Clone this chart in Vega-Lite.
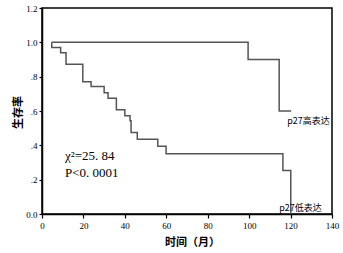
{
  "$schema": "https://vega.github.io/schema/vega-lite/v6.json",
  "width": 290,
  "height": 206,
  "autosize": "none",
  "padding": {"left": 42, "top": 8, "right": 11, "bottom": 39},
  "background": "white",
  "config": {
    "view": {"stroke": "black", "strokeWidth": 1.5},
    "font": "Liberation Serif"
  },
  "datasets": {
    "curves": [
      {"g": "high", "i": 0, "t": 4.7, "s": 1.0},
      {"g": "high", "i": 1, "t": 99.5, "s": 0.9},
      {"g": "high", "i": 2, "t": 114.5, "s": 0.6},
      {"g": "high", "i": 3, "t": 120.3, "s": 0.6},
      {"g": "low", "i": 0, "t": 4.7, "s": 1.0},
      {"g": "low", "i": 1, "t": 4.7, "s": 0.97},
      {"g": "low", "i": 2, "t": 9.0, "s": 0.94},
      {"g": "low", "i": 3, "t": 11.6, "s": 0.872},
      {"g": "low", "i": 4, "t": 19.7, "s": 0.77},
      {"g": "low", "i": 5, "t": 23.7, "s": 0.742},
      {"g": "low", "i": 6, "t": 30.0, "s": 0.706},
      {"g": "low", "i": 7, "t": 31.9, "s": 0.674},
      {"g": "low", "i": 8, "t": 35.9, "s": 0.607},
      {"g": "low", "i": 9, "t": 40.0, "s": 0.572},
      {"g": "low", "i": 10, "t": 42.5, "s": 0.543},
      {"g": "low", "i": 11, "t": 43.0, "s": 0.475},
      {"g": "low", "i": 12, "t": 46.0, "s": 0.436},
      {"g": "low", "i": 13, "t": 55.9, "s": 0.394},
      {"g": "low", "i": 14, "t": 59.9, "s": 0.351},
      {"g": "low", "i": 15, "t": 116.3, "s": 0.254},
      {"g": "low", "i": 16, "t": 120.1, "s": 0.0}
    ],
    "labels": [
      {"t": 118.4, "s": 0.54, "txt": "p27高表达"},
      {"t": 114.5, "s": 0.035, "txt": "p27低表达"}
    ],
    "stats": [
      {"t": 11.1, "s": 0.335, "txt": "χ²=25. 84"},
      {"t": 11.1, "s": 0.238, "txt": "P<0. 0001"}
    ]
  },
  "layer": [
    {
      "data": {"name": "curves"},
      "mark": {"type": "line", "interpolate": "step-after", "stroke": "#555555", "strokeWidth": 1.5},
      "encoding": {
        "x": {
          "field": "t", "type": "quantitative",
          "scale": {"domain": [0, 140], "nice": false, "zero": false},
          "axis": {
            "values": [0, 20, 40, 60, 80, 100, 120, 140],
            "tickCount": 20,
            "labelOverlap": false, "labelBound": false, "labelFlush": false,
            "grid": false, "domainColor": "black", "domainWidth": 1.5,
            "tickColor": "black", "tickSize": 4, "tickWidth": 1.2,
            "labelFont": "Liberation Serif", "labelFontSize": 9, "labelColor": "black",
            "labelPadding": 3,
            "title": "时间（月）", "titleFont": "Noto Sans CJK SC", "titleFontSize": 11,
            "titleFontWeight": "bold", "titleColor": "black",
            "titleX": 150, "titleY": 28, "titleBaseline": "middle", "titleAlign": "center"
          }
        },
        "y": {
          "field": "s", "type": "quantitative",
          "scale": {"domain": [0, 1.2], "nice": false, "zero": false},
          "axis": {
            "values": [0, 0.2, 0.4, 0.6, 0.8, 1.0, 1.2],
            "tickCount": 20,
            "labelOverlap": false, "labelBound": false, "labelFlush": false,
            "labelExpr": "datum.value == 0 ? '0.0' : (datum.value >= 1 ? format(datum.value, '.1f') : replace(format(datum.value, '.1f'), '0.', '.'))",
            "grid": false, "domainColor": "black", "domainWidth": 1.5,
            "tickColor": "black", "tickSize": 3, "tickWidth": 1.2,
            "labelFont": "Liberation Serif", "labelFontSize": 9, "labelColor": "black",
            "labelPadding": 2,
            "title": "生存率", "titleFont": "Noto Sans CJK SC", "titleFontSize": 11,
            "titleFontWeight": "bold", "titleColor": "black",
            "titleX": -24, "titleY": 104, "titleAngle": -90, "titleAlign": "center", "titleBaseline": "middle"
          }
        },
        "detail": {"field": "g"},
        "order": {"field": "i", "type": "quantitative"}
      }
    },
    {
      "data": {"name": "labels"},
      "mark": {"type": "text", "align": "left", "baseline": "middle", "font": "Noto Sans CJK SC", "fontSize": 9, "color": "black"},
      "encoding": {
        "x": {"field": "t", "type": "quantitative"},
        "y": {"field": "s", "type": "quantitative"},
        "text": {"field": "txt"}
      }
    },
    {
      "data": {"name": "stats"},
      "mark": {"type": "text", "align": "left", "baseline": "middle", "font": "Liberation Serif", "fontSize": 13, "color": "black"},
      "encoding": {
        "x": {"field": "t", "type": "quantitative"},
        "y": {"field": "s", "type": "quantitative"},
        "text": {"field": "txt"}
      }
    }
  ]
}
